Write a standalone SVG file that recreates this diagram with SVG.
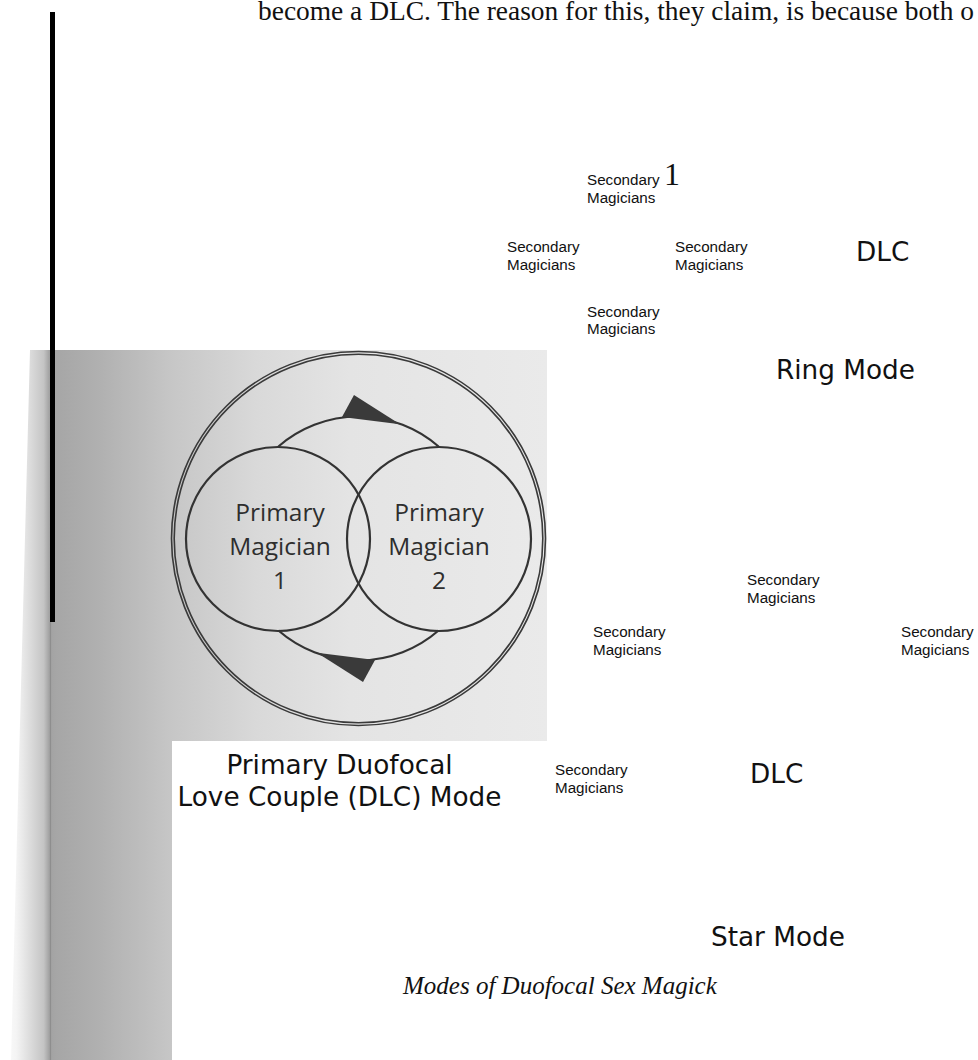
<svg xmlns="http://www.w3.org/2000/svg" width="978" height="1060" viewBox="0 0 978 1060">
<defs>
<linearGradient id="scan" gradientUnits="userSpaceOnUse" x1="0" y1="0" x2="547" y2="0">
<stop offset="0" stop-color="#ffffff"/>
<stop offset="0.03" stop-color="#f4f4f4"/>
<stop offset="0.08" stop-color="#c4c4c4"/>
<stop offset="0.09" stop-color="#a2a2a2"/>
<stop offset="0.103" stop-color="#a6a6a6"/>
<stop offset="0.18" stop-color="#b0b0b0"/>
<stop offset="0.31" stop-color="#c6c6c6"/>
<stop offset="0.47" stop-color="#d9d9d9"/>
<stop offset="0.64" stop-color="#e4e4e4"/>
<stop offset="1" stop-color="#eaeaea"/>
</linearGradient>
<style>
.sec{font-family:"Liberation Sans",Arial,sans-serif;font-size:15.2px;fill:#111}
.big{font-family:"DejaVu Sans",Verdana,sans-serif;font-size:26.3px;fill:#111}
.pm{font-family:"Open Sans","Noto Sans",sans-serif;font-size:24.5px;fill:#2e2e2e;text-anchor:middle}
.body{font-family:"Liberation Serif","Times New Roman",serif;fill:#111}
.ring{fill:none;stroke:#333;stroke-width:2.2}
.outer{fill:none;stroke:#3a3a3a;stroke-width:1.6}
.arc{fill:none;stroke:#333;stroke-width:2.2}
.head{fill:#3a3a3a}
</style>
</defs>
<rect width="978" height="1060" fill="#ffffff"/>
<text class="body" x="258" y="20" font-size="27.5" textLength="716" lengthAdjust="spacingAndGlyphs">become a DLC. The reason for this, they claim, is because both o</text>
<rect x="50" y="12" width="5" height="610" fill="#000"/>
<g id="scan-photo">
<polygon points="30,350 547,350 547,741 172,741 172,1060 11,1060" fill="url(#scan)"/>
<line x1="50.5" y1="622" x2="50.5" y2="1060" stroke="#8e8e8e" stroke-width="1.2"/>
<rect x="50" y="350" width="5" height="272" fill="#000"/>
</g>
<g id="outer-circle">
<circle class="outer" cx="358.5" cy="538.5" r="187"/>
<circle class="outer" cx="358.5" cy="538.5" r="184.3"/>
</g>
<g id="primary-1">
<circle class="ring" cx="278" cy="539" r="92"/>
<text class="pm" x="280" y="521">Primary</text>
<text class="pm" x="280" y="555">Magician</text>
<text class="pm" x="280" y="589">1</text>
</g>
<g id="primary-2">
<circle class="ring" cx="439" cy="539" r="92"/>
<text class="pm" x="439" y="521">Primary</text>
<text class="pm" x="439" y="555">Magician</text>
<text class="pm" x="439" y="589">2</text>
</g>
<g id="connectors">
<path class="arc" d="M278.4 446.5 A122 122 0 0 1 438.6 446.5"/>
<polygon class="head" points="354,395 400,424.3 342,417"/>
<path class="arc" d="M438.6 630.5 A122 122 0 0 1 278.4 630.5"/>
<polygon class="head" points="354,395 400,424.3 342,417" transform="rotate(180 358.5 538.5)"/>
</g>
<g id="dlc-caption">
<text class="big" x="339.5" y="774" text-anchor="middle">Primary Duofocal</text>
<text class="big" x="339.5" y="806" text-anchor="middle">Love Couple (DLC) Mode</text>
</g>
<g id="ring-sec-top"><text class="sec" x="587" y="185">Secondary</text><text class="sec" x="587" y="203">Magicians</text></g>
<text class="body" x="664" y="185" font-size="32">1</text>
<g id="ring-sec-left"><text class="sec" x="507" y="252">Secondary</text><text class="sec" x="507" y="270">Magicians</text></g>
<g id="ring-sec-right"><text class="sec" x="675" y="252">Secondary</text><text class="sec" x="675" y="270">Magicians</text></g>
<g id="ring-sec-bottom"><text class="sec" x="587" y="317">Secondary</text><text class="sec" x="587" y="334">Magicians</text></g>
<g id="ring-dlc"><text class="big" x="856" y="261" font-size="25">DLC</text></g>
<g id="ring-mode"><text class="big" x="776" y="379">Ring Mode</text></g>
<g id="star-sec-top"><text class="sec" x="747" y="585">Secondary</text><text class="sec" x="747" y="603">Magicians</text></g>
<g id="star-sec-left"><text class="sec" x="593" y="637">Secondary</text><text class="sec" x="593" y="655">Magicians</text></g>
<g id="star-sec-right"><text class="sec" x="901" y="637">Secondary</text><text class="sec" x="901" y="655">Magicians</text></g>
<g id="star-sec-bottom"><text class="sec" x="555" y="775">Secondary</text><text class="sec" x="555" y="793">Magicians</text></g>
<g id="star-dlc"><text class="big" x="750" y="783" font-size="25">DLC</text></g>
<g id="star-mode"><text class="big" x="711" y="946">Star Mode</text></g>
<text class="body" x="403" y="994" font-size="25" font-style="italic">Modes of Duofocal Sex Magick</text>
</svg>
